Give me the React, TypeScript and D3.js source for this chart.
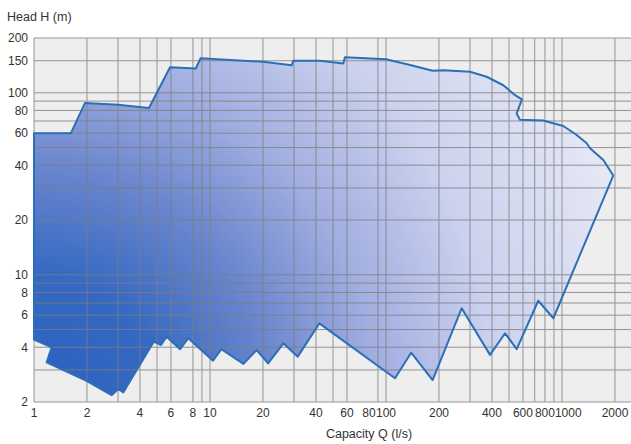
import React from "react";
import * as d3 from "d3";

// upper envelope of the pump range, left to right (Q in l/s, H in m)
const upperQ = [1, 1.62, 1.95, 3, 4.5, 5.93, 8.3, 8.85, 20, 29.1, 29.7, 42, 57.2, 58.5, 100, 137, 184, 212, 300, 373, 464, 541, 592, 553, 577, 783, 1017, 1212, 1381, 1443, 1717, 1955];
const upperH = [60, 60, 88, 86, 82.5, 138, 136, 155, 148, 141.5, 150, 150, 145, 157, 153, 142, 132, 133, 130.5, 122.5, 110, 97, 92, 77, 71, 70.5, 65.7, 58.6, 52.8, 49.6, 42.7, 35.1];

// lower envelope, right to left
const lowerQ = [893, 733, 553, 475, 390, 269, 184, 139, 112.5, 41.8, 31.5, 26.1, 21.4, 18.4, 15.5, 11.6, 10.4, 7.53, 6.76, 5.67, 5.27, 4.8, 3.22, 3.01, 2.76, 1.99, 1.18, 1.26, 1];
const lowerH = [5.77, 7.2, 3.9, 4.77, 3.63, 6.54, 2.64, 3.73, 2.7, 5.41, 3.55, 4.2, 3.26, 3.86, 3.24, 3.9, 3.37, 4.48, 3.9, 4.57, 4.11, 4.3, 2.26, 2.36, 2.18, 2.61, 3.3, 4.0, 4.4];

const xTicks = [1, 2, 4, 6, 8, 10, 20, 40, 60, 80, 100, 200, 400, 600, 800, 1000, 2000];
const yTicks = [2, 4, 6, 8, 10, 20, 40, 60, 80, 100, 150, 200];
const xGrid = [1, 2, 3, 4, 5, 6, 8, 9, 10, 20, 30, 40, 50, 60, 90, 100, 200, 300, 400, 500, 600, 700, 800, 900, 1000, 2000];
const yGrid = [2, 3, 4, 5, 6, 7, 8, 9, 10, 20, 30, 40, 50, 60, 70, 80, 90, 100, 150, 200];

const width = 631;
const height = 444;
const left = 34;
const top = 38;
const bottom = 402;
const right = 631;
const tickFont = 12;

export default function App() {
  // 176 px per decade on Q, 182 px per decade on H
  const x = d3.scaleLog().domain([1, Math.pow(10, (right - left) / 176)]).range([left, right]);
  const y = d3.scaleLog().domain([2, 200]).range([bottom, top]);

  const pts: [number, number][] = [
    ...upperQ.map((q, i) => [q, upperH[i]] as [number, number]),
    ...lowerQ.map((q, i) => [q, lowerH[i]] as [number, number]),
  ];
  const line = d3
    .line<[number, number]>()
    .x((d) => x(d[0]))
    .y((d) => y(d[1]));
  const path = line(pts) + "Z";

  // push crowded x labels to the right so they just touch, like the original
  let prevEnd = -Infinity;
  const xLabelPos = xTicks.map((v) => {
    const w = String(v).length * 0.556 * tickFont;
    const start = Math.max(x(v) - w / 2, prevEnd);
    prevEnd = start + w;
    return start + w / 2;
  });

  const font = "'Liberation Sans', Arial, sans-serif";

  return (
    <svg
      width={width}
      height={height}
      style={{ position: "absolute", left: 0, top: 0, background: "#fff" }}
    >
      <defs>
        <radialGradient id="fillGrad" gradientUnits="userSpaceOnUse" cx={left} cy={bottom} r={620}>
          <stop offset="0" stopColor="#2a62bf" />
          <stop offset="0.2" stopColor="#3468c2" />
          <stop offset="0.38" stopColor="#6a86ce" />
          <stop offset="0.55" stopColor="#a0ade0" />
          <stop offset="0.75" stopColor="#ccd2ee" />
          <stop offset="1" stopColor="#e6e8f5" />
        </radialGradient>
      </defs>

      <rect x={left} y={top} width={right - left} height={bottom - top} fill="#eeeeee" />

      <path d={path} fill="url(#fillGrad)" />

      <g stroke="#7e7e7e" strokeWidth={1} opacity={0.8}>
        {xGrid.map((v) => (
          <line key={"x" + v} x1={x(v)} x2={x(v)} y1={top} y2={bottom} />
        ))}
        {yGrid.map((v) => (
          <line key={"y" + v} x1={left} x2={right} y1={y(v)} y2={y(v)} />
        ))}
      </g>

      <path d={path} fill="none" stroke="#2c6fb8" strokeWidth={2} strokeLinejoin="round" />

      <g fontFamily={font} fontSize={tickFont} fill="#333">
        {yTicks.map((v) => (
          <text key={"yt" + v} x={28} y={y(v)} dy="0.36em" textAnchor="end">
            {v}
          </text>
        ))}
        {xTicks.map((v, i) => (
          <text key={"xt" + v} x={xLabelPos[i]} y={417} textAnchor="middle">
            {v}
          </text>
        ))}
        <text x={7} y={21} fontSize={12.5}>
          Head H (m)
        </text>
        <text x={369} y={438} fontSize={12.5} textAnchor="middle">
          Capacity Q (l/s)
        </text>
      </g>
    </svg>
  );
}
